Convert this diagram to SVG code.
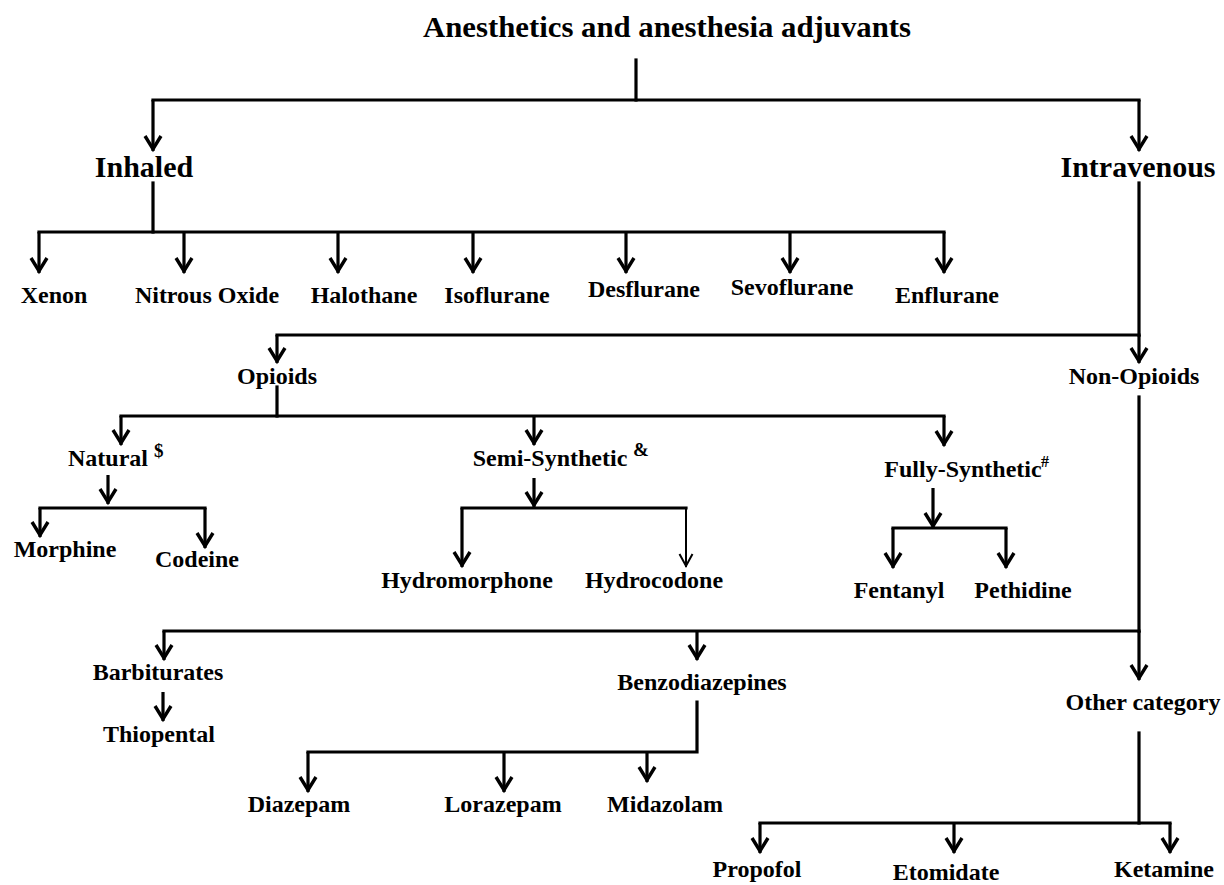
<svg xmlns="http://www.w3.org/2000/svg" width="1224" height="885" viewBox="0 0 1224 885">
<defs>
<style>
text{font-family:"Liberation Serif","Times New Roman",serif;font-weight:bold;fill:#000;text-anchor:middle}
.t1{font-size:30px}
.t2{font-size:24px}
.sup{font-size:19px;text-anchor:start}
.c{stroke:#000;stroke-width:3.2;fill:none;stroke-linecap:square;stroke-linejoin:miter}
.a{stroke:#000;stroke-width:3.2;fill:none;stroke-linecap:butt;marker-end:url(#arr)}
.at{stroke:#000;stroke-width:2;fill:none;stroke-linecap:butt;marker-end:url(#arrThin)}
</style>
<marker id="arr" markerUnits="userSpaceOnUse" orient="auto" refX="0" refY="0" markerWidth="20" markerHeight="20" overflow="visible">
<path d="M-15,-8 L-2,0 L-15,8" fill="none" stroke="#000" stroke-width="3.4"/>
</marker>
<marker id="arrThin" markerUnits="userSpaceOnUse" orient="auto" refX="0" refY="0" markerWidth="20" markerHeight="20" overflow="visible">
<path d="M-13,-6.5 L-1,0 L-13,6.5" fill="none" stroke="#000" stroke-width="2"/>
</marker>
</defs>
<rect width="1224" height="885" fill="#fff"/>
<g id="connectors">
<path class="c" d="M636,60 V100"/>
<path class="c" d="M153,100 H1139"/>
<path class="a" d="M153,100 V151"/>
<path class="a" d="M1139,100 V151"/>
<path class="c" d="M153,183 V232"/>
<path class="c" d="M39,232 H944"/>
<path class="a" d="M39,232 V273"/>
<path class="a" d="M184,232 V273"/>
<path class="a" d="M338,232 V273"/>
<path class="a" d="M473,232 V273"/>
<path class="a" d="M626,232 V273"/>
<path class="a" d="M790,232 V273"/>
<path class="a" d="M944,232 V273"/>
<path class="c" d="M1139,183 V335"/>
<path class="c" d="M277,335 H1139"/>
<path class="a" d="M277,335 V363"/>
<path class="a" d="M1139,335 V363"/>
<path class="c" d="M277,387 V416"/>
<path class="c" d="M121,416 H944"/>
<path class="a" d="M121,416 V445"/>
<path class="a" d="M534,416 V445"/>
<path class="a" d="M944,416 V446"/>
<path class="a" d="M108,475 V504"/>
<path class="c" d="M40,508 H205"/>
<path class="a" d="M40,508 V537"/>
<path class="a" d="M205,508 V548"/>
<path class="a" d="M534,478 V507"/>
<path class="c" d="M462,508 H686"/>
<path class="a" d="M462,508 V567"/>
<path class="at" d="M686,508 V567"/>
<path class="a" d="M933,488 V528"/>
<path class="c" d="M893,528 H1006"/>
<path class="a" d="M893,528 V568"/>
<path class="a" d="M1006,528 V568"/>
<path class="c" d="M1139,397 V631"/>
<path class="c" d="M164,631 H1139"/>
<path class="a" d="M164,631 V660"/>
<path class="a" d="M697,631 V660"/>
<path class="a" d="M1139,631 V680"/>
<path class="a" d="M163,692 V721"/>
<path class="c" d="M697,702 V752 H308"/>
<path class="a" d="M308,752 V792"/>
<path class="a" d="M504,752 V792"/>
<path class="a" d="M647,752 V782"/>
<path class="c" d="M1139,733 V823"/>
<path class="c" d="M760,823 H1170"/>
<path class="a" d="M760,823 V853"/>
<path class="a" d="M954,823 V853"/>
<path class="a" d="M1170,823 V853"/>
</g>
<g id="n-root"><text class="t1" x="423" y="37" style="text-anchor:start" textLength="488" lengthAdjust="spacingAndGlyphs">Anesthetics and anesthesia adjuvants</text></g>
<g id="n-inhaled"><text class="t1" x="144" y="177">Inhaled</text></g>
<g id="n-intravenous"><text class="t1" x="1138" y="177">Intravenous</text></g>
<g id="n-xenon"><text class="t2" x="54" y="303">Xenon</text></g>
<g id="n-nitrous"><text class="t2" x="207" y="303">Nitrous Oxide</text></g>
<g id="n-halothane"><text class="t2" x="364" y="303">Halothane</text></g>
<g id="n-isoflurane"><text class="t2" x="497" y="303">Isoflurane</text></g>
<g id="n-desflurane"><text class="t2" x="644" y="297">Desflurane</text></g>
<g id="n-sevoflurane"><text class="t2" x="792" y="295">Sevoflurane</text></g>
<g id="n-enflurane"><text class="t2" x="947" y="303">Enflurane</text></g>
<g id="n-opioids"><text class="t2" x="277" y="384">Opioids</text></g>
<g id="n-nonopioids"><text class="t2" x="1134" y="384">Non-Opioids</text></g>
<g id="n-natural"><text class="t2" x="108" y="466">Natural</text><text class="sup" x="154" y="457">$</text></g>
<g id="n-semi"><text class="t2" x="550" y="466">Semi-Synthetic</text><text class="sup" x="633" y="456">&amp;</text></g>
<g id="n-fully"><text class="t2" x="963" y="477">Fully-Synthetic</text><text class="sup" x="1041" y="467" style="font-size:16px">#</text></g>
<g id="n-morphine"><text class="t2" x="65" y="557">Morphine</text></g>
<g id="n-codeine"><text class="t2" x="197" y="567">Codeine</text></g>
<g id="n-hydromorphone"><text class="t2" x="467" y="588">Hydromorphone</text></g>
<g id="n-hydrocodone"><text class="t2" x="654" y="588">Hydrocodone</text></g>
<g id="n-fentanyl"><text class="t2" x="899" y="598">Fentanyl</text></g>
<g id="n-pethidine"><text class="t2" x="1023" y="598">Pethidine</text></g>
<g id="n-barbiturates"><text class="t2" x="158" y="680">Barbiturates</text></g>
<g id="n-thiopental"><text class="t2" x="159" y="742">Thiopental</text></g>
<g id="n-benzo"><text class="t2" x="702" y="690">Benzodiazepines</text></g>
<g id="n-other"><text class="t2" x="1143" y="710">Other category</text></g>
<g id="n-diazepam"><text class="t2" x="299" y="812">Diazepam</text></g>
<g id="n-lorazepam"><text class="t2" x="503" y="812">Lorazepam</text></g>
<g id="n-midazolam"><text class="t2" x="665" y="812">Midazolam</text></g>
<g id="n-propofol"><text class="t2" x="757" y="877">Propofol</text></g>
<g id="n-etomidate"><text class="t2" x="946" y="880">Etomidate</text></g>
<g id="n-ketamine"><text class="t2" x="1164" y="877">Ketamine</text></g>
</svg>
